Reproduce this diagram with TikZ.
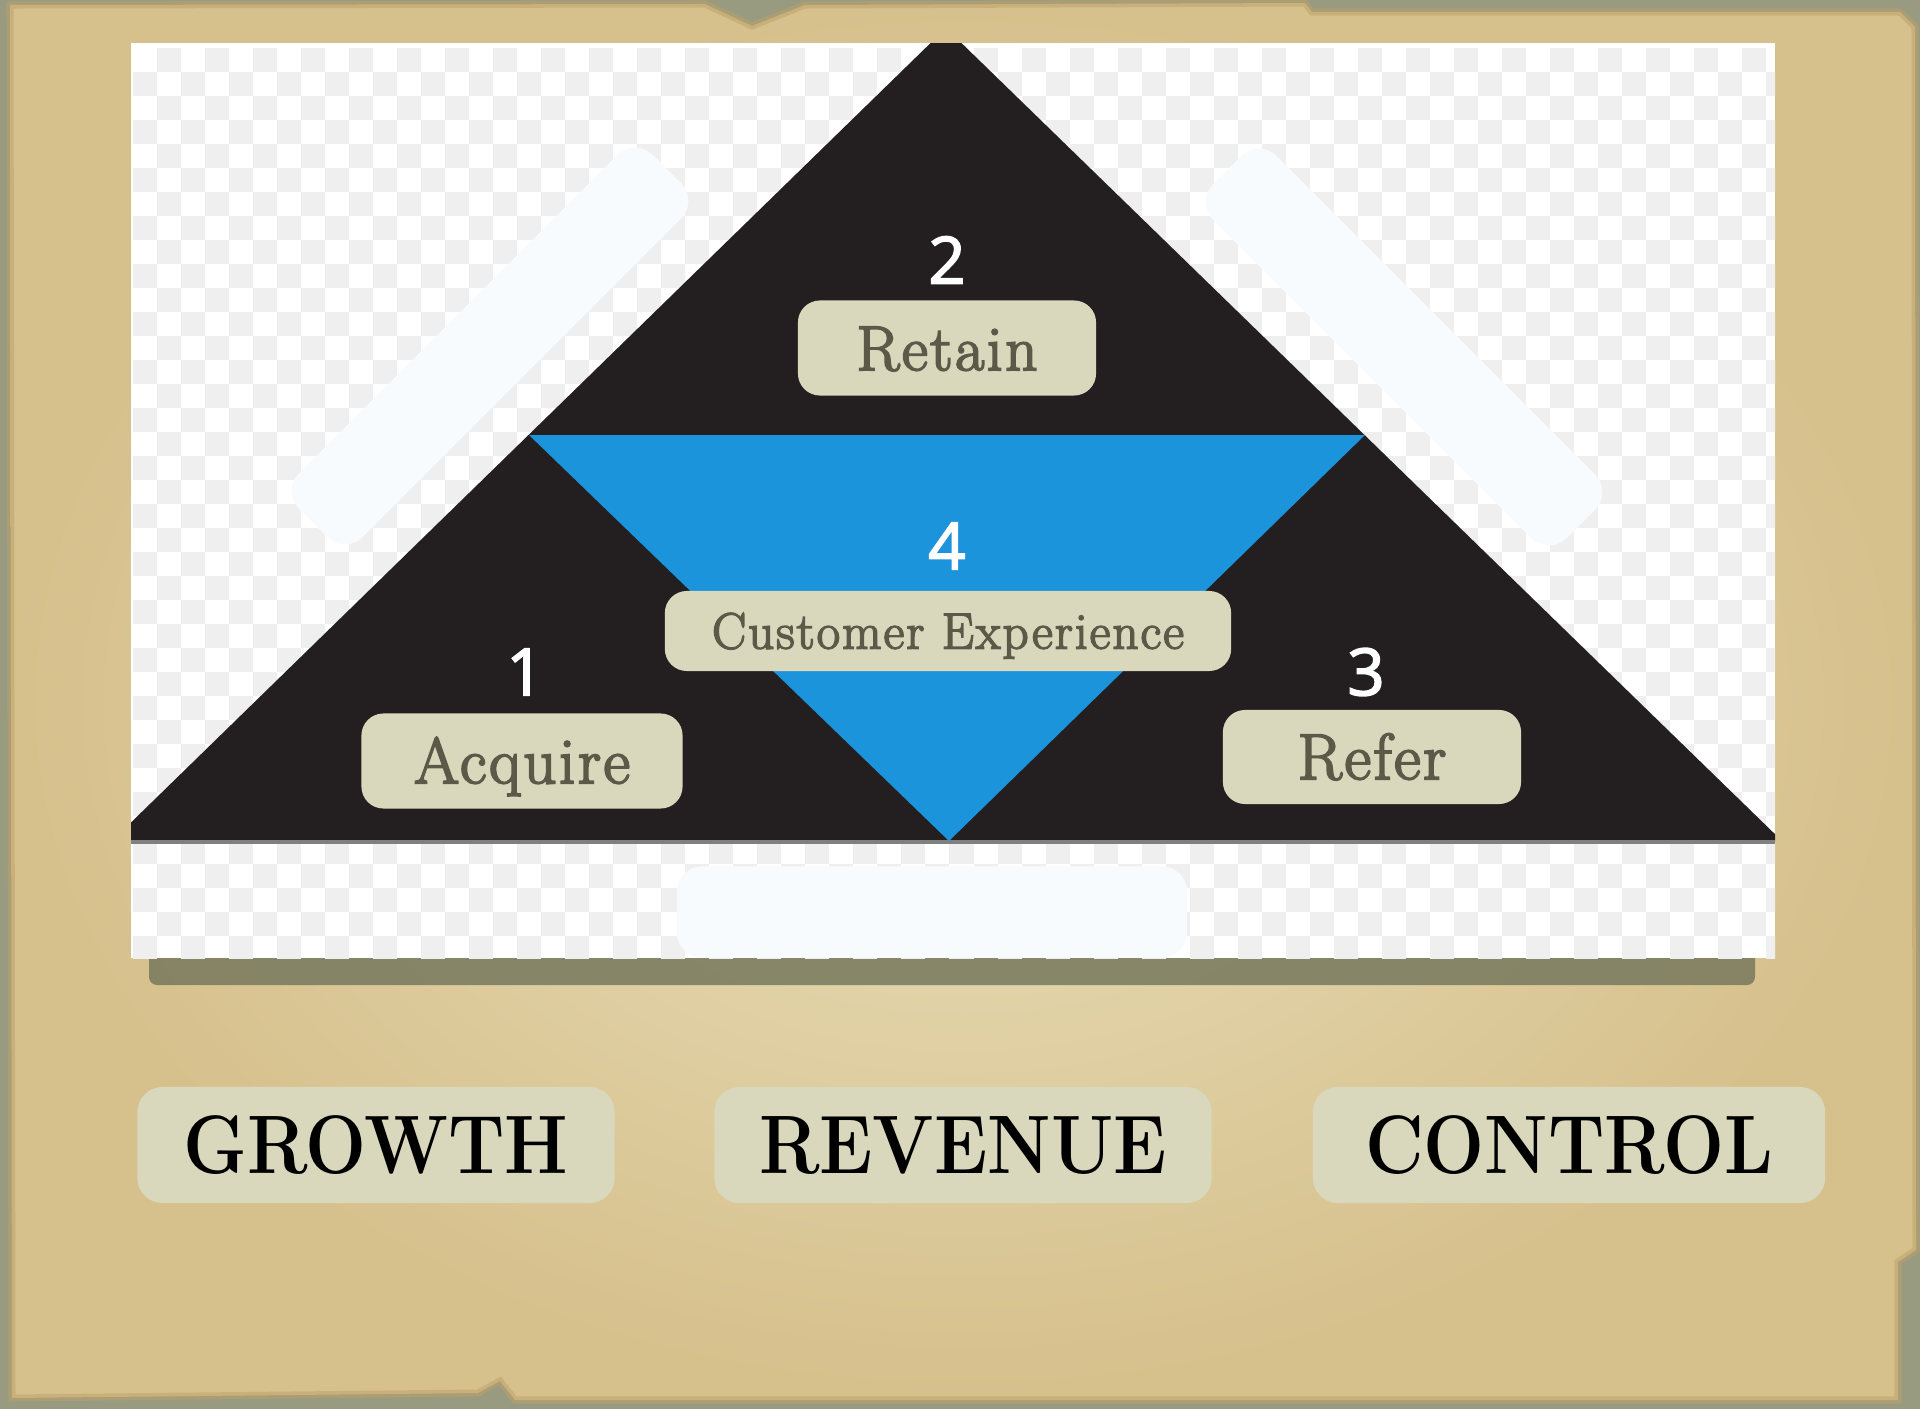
\documentclass[tikz,border=0pt]{standalone}
\usepackage{fontspec}
\usepackage{graphicx}
\usepackage{xcolor}
\usepackage{tikz}
\newfontfamily\numfont[FakeBold=2.5]{Open Sans}
\newfontfamily\chipfont[FakeBold=3,LetterSpace=4]{Latin Modern Roman}
\definecolor{felt}{RGB}{152,155,127}
\definecolor{parchlight}{RGB}{233,223,186}
\definecolor{parchdark}{RGB}{214,192,140}
\definecolor{parchedge}{RGB}{190,162,108}
\definecolor{check}{RGB}{239,239,239}
\definecolor{ink}{RGB}{35,31,32}
\definecolor{sky}{RGB}{27,148,219}
\definecolor{tape}{RGB}{247,251,254}
\definecolor{chip}{RGB}{217,216,189}
\definecolor{chiptext}{RGB}{91,90,73}
\definecolor{shadowol}{RGB}{120,121,94}
\newcommand{\parchpath}{(10,5) -- (705,4) -- (752,26) -- (805,5) -- (1305,3) -- (1312,12) -- (1900,12) -- (1915,27) -- (1916,1250) -- (1898,1262) -- (1898,1400) -- (515,1400) -- (500,1381) -- (478,1393) -- (12,1398) -- cycle}
\newcommand{\drawchecker}[4]{
    \foreach \j in {0,...,#4}{
      \pgfmathsetmacro{\ph}{mod(\j+1,2)*0.24}
      \draw[check, line width=0.24cm, dash pattern=on 0.24cm off 0.24cm, dash phase=\ph cm] (#1,{#2+24*\j+12})--++({24*#3},0);
    }
}
\newcommand{\bannertext}[1]{\scalebox{0.87}[1]{\fontsize{23.6}{26}\selectfont\bfseries #1}}
\tikzset{
  tapebar/.style={fill=tape, rounded corners=0.25cm, inner sep=0pt},
  chipbox/.style={fill=chip, rounded corners=0.22cm, text=chiptext, inner sep=0pt, text height=12.6pt, text depth=0pt, font=\chipfont\fontsize{18.5}{20}\selectfont},
  numlabel/.style={text=white, inner sep=0pt, font=\numfont\fontsize{18.5}{20}\selectfont},
  banner/.style={fill=chip, rounded corners=0.25cm, text=black, inner sep=0pt, minimum height=1.16cm, text height=16.2pt, text depth=0pt}
}
\begin{document}
\begin{tikzpicture}[x=0.01cm, y=-0.01cm]
\useasboundingbox (0,0) rectangle (1920,1409);
\fill[felt] (0,0) rectangle (1920,1409);
\shade[inner color=parchlight, outer color=parchdark] \parchpath;
\draw[parchedge, line width=2pt, opacity=0.5] \parchpath;
\fill[shadowol, opacity=0.85, rounded corners=0.08cm] (149,948) rectangle (1755,985);
\fill[white] (131,43) rectangle (1775,958);
\begin{scope}
  \clip (131,43) rectangle (1775,958);
  \drawchecker{133}{48}{69}{38}
  \fill[ink] (946,28) -- (1782,841) -- (112,841) -- cycle;
  \fill[sky] (529,435) -- (1365,435) -- (949,841) -- cycle;
  \draw[gray, line width=1pt] (131,842) -- (1775,842);
\end{scope}
\node[tapebar, rotate=45, minimum width=5cm, minimum height=0.9cm] (tapeL) at (490,346) {};
\node[tapebar, rotate=-45, minimum width=5cm, minimum height=0.9cm] (tapeR) at (1404,347) {};
\node[tapebar, minimum width=5.1cm, minimum height=0.91cm] (tapeB) at (932,912) {};
\node[numlabel] (n2) at (947,260) {2};
\node[chipbox, font=\chipfont\fontsize{18}{20}\selectfont, minimum width=2.98cm, minimum height=0.95cm] (retain) at (947,348) {Retain};
\node[numlabel] (n4) at (947,546) {4};
\node[chipbox, font=\chipfont\fontsize{14.5}{16}\selectfont, text height=10pt, minimum width=5.66cm, minimum height=0.8cm] (cx) at (948,631) {Customer Experience};
\node[numlabel] (n1) at (525,672) {1};
\node[chipbox, minimum width=3.21cm, minimum height=0.95cm] (acquire) at (522,761) {Acquire};
\node[numlabel] (n3) at (1366,672) {3};
\node[chipbox, minimum width=2.98cm, minimum height=0.94cm] (refer) at (1372,757) {Refer};
\node[banner, minimum width=4.77cm] (growth) at (376,1145) {\bannertext{GROWTH}};
\node[banner, minimum width=4.97cm] (revenue) at (963,1145) {\bannertext{REVENUE}};
\node[banner, minimum width=5.12cm] (control) at (1569,1145) {\bannertext{CONTROL}};
\end{tikzpicture}
\end{document}
